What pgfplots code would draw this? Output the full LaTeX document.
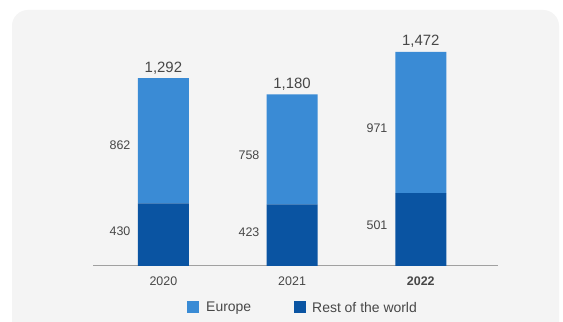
\documentclass[border=0pt]{standalone}
\usepackage{pgfplots}
\pgfplotsset{compat=1.18}
\usepackage{fontspec}
\setmainfont{Liberation Sans}
\definecolor{panel}{HTML}{F4F4F4}
\definecolor{europe}{HTML}{3A8BD5}
\definecolor{rest}{HTML}{0A54A2}
\definecolor{txt}{HTML}{474747}
\definecolor{axisgray}{HTML}{A0A0A0}
\begin{document}
\begin{tikzpicture}
\useasboundingbox (0,0) rectangle (563bp,322bp);
\fill[white] (0,0) rectangle (563bp,322bp);
\fill[panel, rounded corners=16bp] (12bp,-30bp) rectangle (559bp,312bp);
\pgfplotsset{
  baseaxis/.style={
    at={(93bp,56bp)}, anchor=south west,
    scale only axis, width=405bp, height=236bp,
    xmin=-0.547, xmax=2.6, ymin=0, ymax=1623,
    clip=false,
  }
}
% bars, axis line, category labels
\begin{axis}[baseaxis,
  ybar stacked, bar width=51bp,
  axis x line=bottom, axis y line=none,
  x axis line style={draw=axisgray, line width=1bp, -},
  xtick={0,1,2}, xticklabels={2020,2021,\textbf{2022}},
  xtick style={draw=none}, ytick=\empty,
  xticklabel style={font=\fontsize{12.5}{14}\selectfont, text=txt, yshift=-5bp},
]
\addplot[fill=rest, draw=none] coordinates {(0,430) (1,423) (2,501)};
\addplot[fill=europe, draw=none] coordinates {(0,862) (1,757) (2,971)};
\end{axis}
% value labels
\begin{axis}[baseaxis, hide axis,
  nodes near coords, point meta=explicit symbolic,
]
\addplot[draw=none, mark=none,
  every node near coord/.style={font=\fontsize{12.5}{14}\selectfont, text=txt, anchor=center}]
  coordinates {(-0.337,241)[430] (0.665,234)[423] (1.66,282)[501]};
\addplot[draw=none, mark=none,
  every node near coord/.style={font=\fontsize{12.5}{14}\selectfont, text=txt, anchor=center}]
  coordinates {(-0.337,832)[862] (0.665,763)[758] (1.66,949)[971]};
\addplot[draw=none, mark=none,
  every node near coord/.style={font=\fontsize{15}{16}\selectfont, text=txt, anchor=south, inner sep=2pt, yshift=2bp}]
  coordinates {(0,1292)[1,292] (1,1180)[1,180] (2,1472)[1,472]};
\end{axis}
% legend
\fill[europe] (187bp,9bp) rectangle (199bp,21bp);
\node[anchor=west, font=\fontsize{14}{15}\selectfont, text=txt, inner sep=0pt] at (206bp,14bp) {Europe};
\fill[rest] (294bp,9bp) rectangle (306bp,21bp);
\node[anchor=west, font=\fontsize{14}{15}\selectfont, text=txt, inner sep=0pt] at (312bp,14bp) {Rest of the world};
\end{tikzpicture}
\end{document}
